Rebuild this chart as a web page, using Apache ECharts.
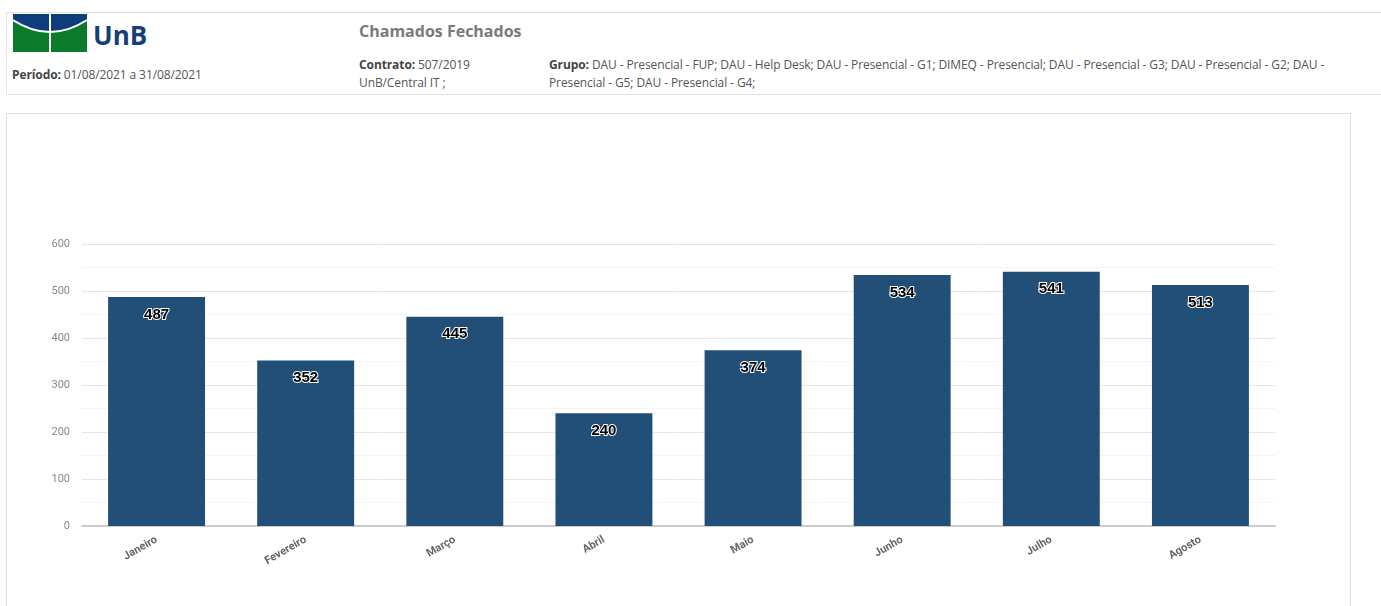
<!DOCTYPE html>
<html>
<head>
<meta charset="utf-8">
<script src="https://cdn.jsdelivr.net/npm/echarts@6/dist/echarts.min.js"></script>
<style>
  html, body { margin:0; padding:0; background:#fff; width:1381px; height:606px; overflow:hidden; font-family:"Open Sans", sans-serif; color:#555; }
  #header { position:absolute; left:6px; top:12px; width:1380px; height:83px; border:1px solid #e2e2e2; border-right:none; box-sizing:border-box; }
  #logo { position:absolute; left:6px; top:1px; }
  .t { position:absolute; font-size:12px; line-height:18px; white-space:nowrap; letter-spacing:-0.1px; }
  .t b { color:#444; }
  #title { position:absolute; left:352px; top:7px; font-size:16px; font-weight:bold; color:#7a7a7a; }
  #panel { position:absolute; left:6px; top:113px; width:1345px; height:500px; border:1px solid #dedede; box-sizing:border-box; }
  #chart { position:absolute; left:0; top:0; width:1343px; height:493px; }
</style>
</head>
<body>
<div id="header">
  <svg id="logo" width="142" height="40" viewBox="0 0 142 40">
    <rect x="0" y="0" width="74" height="38" fill="#0b7a2a"/>
    <path d="M0 0 L74 0 L74 6 Q37 30 0 6 Z" fill="#0d3d7a"/>
    <path d="M0 6 Q37 30 74 6" stroke="#fff" stroke-width="2" fill="none"/>
    <rect x="36" y="0" width="2" height="38" fill="#fff"/>
    <text x="80" y="31" font-family="Open Sans, sans-serif" font-weight="bold" font-size="26" fill="#153f7a">UnB</text>
  </svg>
  <div class="t" style="left:5px; top:53px;"><b>Período:</b> 01/08/2021 a 31/08/2021</div>
  <div id="title">Chamados Fechados</div>
  <div class="t" style="left:352px; top:43px;"><b>Contrato:</b> 507/2019</div>
  <div class="t" style="left:352px; top:61px;">UnB/Central IT ;</div>
  <div class="t" style="left:542px; top:43px; white-space:normal; width:790px;"><b>Grupo:</b> DAU - Presencial - FUP; DAU - Help Desk; DAU - Presencial - G1; DIMEQ - Presencial; DAU - Presencial - G3; DAU - Presencial - G2; DAU - Presencial - G5; DAU - Presencial - G4;</div>
</div>
<div id="panel"><div id="chart"></div></div>
<script>
const categories = ["Janeiro", "Fevereiro", "Março", "Abril", "Maio", "Junho", "Julho", "Agosto"];
const values = [487, 352, 445, 240, 374, 534, 541, 513];
const yTicks = { min: 0, max: 600, interval: 100 };

const chart = echarts.init(document.getElementById('chart'));
chart.setOption({
  animation: false,
  grid: { left: 75, right: 75, top: 130, bottom: 81 },
  xAxis: {
    type: 'category',
    data: categories,
    axisLine: { lineStyle: { color: '#cccccc', width: 2 } },
    axisTick: { show: false },
    axisLabel: { rotate: 30, fontSize: 11, fontWeight: 'bold', color: '#666', fontFamily: 'Roboto, sans-serif', margin: 13 }
  },
  yAxis: {
    type: 'value',
    min: yTicks.min, max: yTicks.max, interval: yTicks.interval,
    axisLine: { show: false },
    axisTick: { show: false },
    axisLabel: { fontSize: 11, color: '#888', fontFamily: 'Roboto, sans-serif', margin: 12 },
    splitLine: { lineStyle: { color: '#e6e6e6' } },
    minorTick: { show: false, splitNumber: 2 },
    minorSplitLine: { show: true, lineStyle: { color: '#f4f4f4' } }
  },
  series: [{
    type: 'bar',
    data: values,
    barWidth: '65%',
    itemStyle: { color: '#214f78' },
    label: {
      show: true, position: 'insideTop', distance: 10,
      color: '#000', fontSize: 15, fontWeight: 'bold', fontFamily: '"Liberation Sans", Arial, sans-serif',
      textBorderColor: '#fff', textBorderWidth: 2
    }
  }]
});
</script>
</body>
</html>
